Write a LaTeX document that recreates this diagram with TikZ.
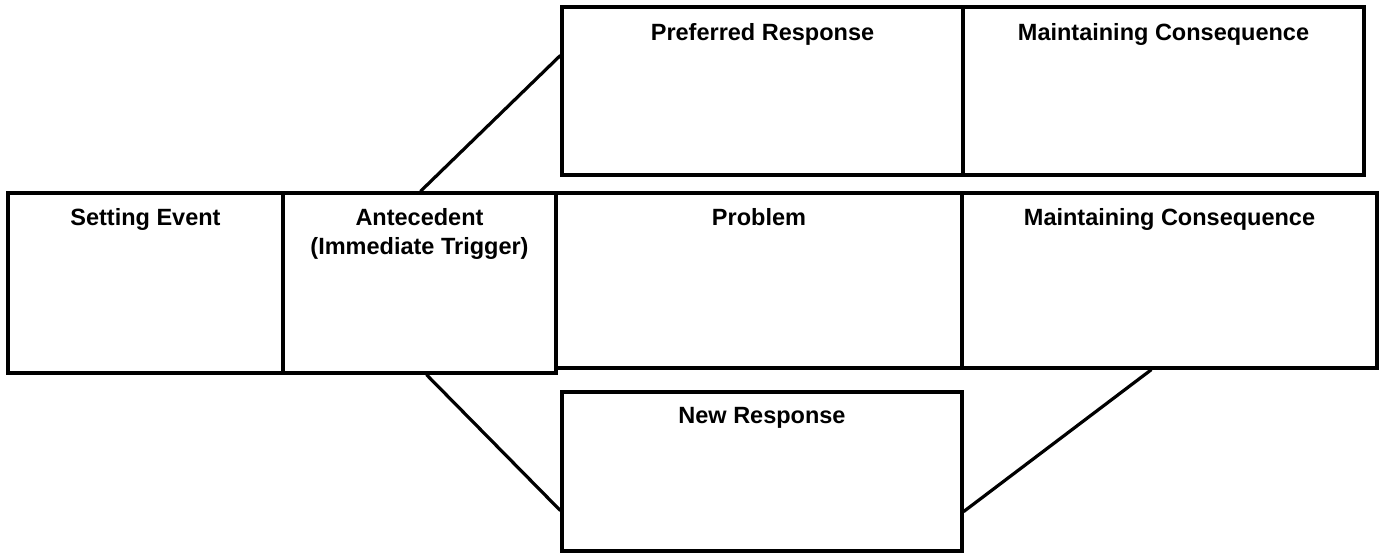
\documentclass[tikz,border=0pt]{standalone}
\usepackage{fontspec}
\setmainfont{Liberation Sans}
\usetikzlibrary{calc}
\tikzset{
  box/.style={draw=black, line width=3.2pt, rectangle, inner sep=0pt, fill=white},
  lbl/.style={anchor=base, align=center, inner sep=0pt, font=\fontsize{23.5}{29}\selectfont\bfseries},
  link/.style={draw=black, line width=3.2pt}
}
\newcommand{\mkbox}[5]{% name, x1, y1, x2, y2
  \node[box, minimum width={(#4-#2)*1pt}, minimum height={(#5-#3)*1pt}] (#1) at ({(#2+#4)/2},{(#3+#5)/2}) {};
}
\begin{document}
\begin{tikzpicture}[x=1pt, y=-1pt]
\useasboundingbox (0,0) rectangle (1383,552);
\mkbox{SE}{8}{193}{283}{373}
\mkbox{AN}{283}{193}{556}{373}
\mkbox{PR}{562}{7}{963}{175}
\mkbox{MCa}{963}{7}{1364}{175}
\mkbox{PB}{556}{193}{962}{368}
\mkbox{MCb}{962}{193}{1377}{368}
\mkbox{NR}{562}{392}{962}{551}
\draw[link] ([xshift=139pt]AN.north west) -- ([yshift=-50pt]PR.north west);
\draw[link] ([xshift=145pt]AN.south west) -- ([yshift=42pt]NR.south west);
\draw[link] ([xshift=191pt]MCb.south west) -- ([yshift=41pt]NR.south east);
% labels
\node[lbl] (tSE) at ([yshift=-34pt]SE.north) {Setting Event};
\node[lbl] (tAN) at ([yshift=-63pt]AN.north) {Antecedent\\(Immediate Trigger)};
\node[lbl] (tPR) at ([yshift=-35pt]PR.north) {Preferred Response};
\node[lbl] (tMCa) at ([yshift=-35pt]MCa.north) {Maintaining Consequence};
\node[lbl] (tPB) at ([yshift=-34pt]PB.north) {Problem};
\node[lbl] (tMCb) at ([yshift=-34pt]MCb.north) {Maintaining Consequence};
\node[lbl] (tNR) at ([yshift=-33pt]NR.north) {New Response};
\end{tikzpicture}
\end{document}
